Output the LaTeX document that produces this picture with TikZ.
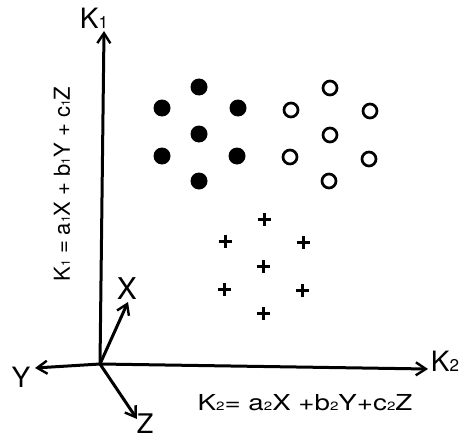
\documentclass[tikz,border=0pt]{standalone}
\usepackage{fontspec}
\setmainfont{TeX Gyre Heros}
\usetikzlibrary{arrows.meta}
\newcommand{\subsc}[1]{{\fontsize{12}{12}\selectfont #1}}
\newcommand{\bigsub}[1]{{\fontsize{17}{17}\selectfont #1}}
\tikzset{
  axis/.style={line width=3pt, -{Straight Barb[length=10pt,width=13pt,line width=2.4pt]}},
  lbl/.style={inner sep=0pt, font=\fontsize{22}{22}\selectfont},
  axlbl/.style={inner sep=0pt, font=\fontsize{28}{28}\selectfont},
  fdot/.style={circle, fill=black, minimum size=17pt, inner sep=0pt},
  odot/.style={circle, draw=black, line width=2.7pt, minimum size=14pt, inner sep=0pt},
  pluss/.style={inner sep=0pt, minimum size=0pt,
    append after command={\pgfextra{\draw[line width=3pt] ([xshift=-6.5pt]\tikzlastnode.center) -- ([xshift=6.5pt]\tikzlastnode.center) ([yshift=-6.5pt]\tikzlastnode.center) -- ([yshift=6.5pt]\tikzlastnode.center);}}}
}
\begin{document}
\begin{tikzpicture}[x=1pt,y=-1pt]
\useasboundingbox (0,0) rectangle (470,441);
\coordinate (O) at (100,364);
\coordinate (k1) at (104,31);
\coordinate (k2) at (428,369);
\coordinate (xe) at (128,302);
\coordinate (ye) at (35,368);
\coordinate (ze) at (137,419);
\draw[axis] (O) -- (k1);
\draw[axis] (O) -- (k2);
\draw[axis] (O) -- (xe);
\draw[axis] (O) -- (ye);
\draw[axis] (O) -- (ze);
\node[axlbl] (K1) at (94,18) {K\bigsub{1}};
\node[axlbl] (K2) at (445,361) {K\bigsub{2}};
\node[axlbl, font=\fontsize{30}{30}\selectfont] (X) at (127,289) {X};
\node[axlbl] (Y) at (21,377) {Y};
\node[axlbl, font=\fontsize{27}{27}\selectfont] (Z) at (145,424) {Z};
\node[lbl, rotate=90] (f1) at (62,184) {K\subsc{1} = a\subsc{1}X + b\subsc{1}Y + c\subsc{1}Z};
\node[lbl] (f2) at (305,403) {\scalebox{1.26}[1]{K\subsc{2}= a\subsc{2}X +b\subsc{2}Y+c\subsc{2}Z}};
% filled dots
\node[fdot] (f1a) at (162,108) {};
\node[fdot] (f1b) at (199,87) {};
\node[fdot] (f1c) at (238,108) {};
\node[fdot] (f1d) at (199,134) {};
\node[fdot] (f1e) at (162,156) {};
\node[fdot] (f1f) at (237,156) {};
\node[fdot] (f1g) at (199,181) {};
% open circles
\node[odot] (o1a) at (291,110) {};
\node[odot] (o1b) at (330,88) {};
\node[odot] (o1c) at (370,111) {};
\node[odot] (o1d) at (330,135) {};
\node[odot] (o1e) at (290,157) {};
\node[odot] (o1f) at (369,159) {};
\node[odot] (o1g) at (329,181) {};
% pluses
\node[pluss] (p1) at (264,219) {};
\node[pluss] (p2) at (225,241) {};
\node[pluss] (p3) at (303,242) {};
\node[pluss] (p4) at (263,266) {};
\node[pluss] (p5) at (224,289) {};
\node[pluss] (p6) at (302,290) {};
\node[pluss] (p7) at (263,313) {};
\end{tikzpicture}
\end{document}
